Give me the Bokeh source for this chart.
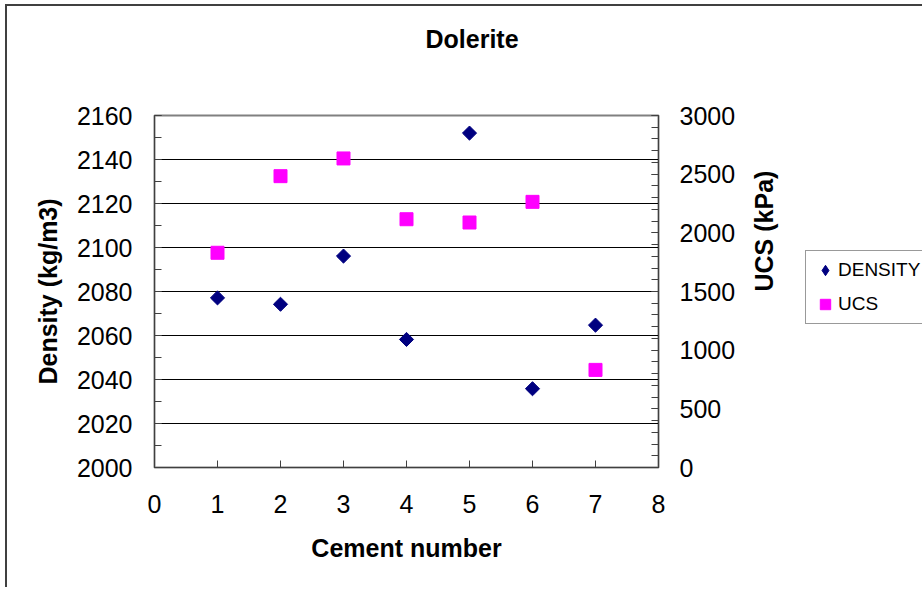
import math
from bokeh.plotting import figure
from bokeh.layouts import row
from bokeh.models import Range1d, LinearAxis, FixedTicker, Legend, LegendItem
from bokeh.embed import file_html
from bokeh.resources import INLINE

# ---- data ----
cement = [1, 2, 3, 4, 5, 6, 7]
density = [2077.1, 2074.2, 2096.1, 2058.2, 2152.0, 2035.8, 2064.7]
ucs = [1830, 2483, 2634, 2116, 2088, 2264, 832]
x_ticks = [0, 1, 2, 3, 4, 5, 6, 7, 8]
density_ticks = [2000, 2020, 2040, 2060, 2080, 2100, 2120, 2140, 2160]
density_minor = list(range(2000, 2161, 10))
ucs_ticks = [0, 500, 1000, 1500, 2000, 2500, 3000]
ucs_minor = list(range(0, 3001, 100))

FONT = "Liberation Sans"
AX = "#404040"
NAVY = "#000080"
MAGENTA = "#FF00FF"

p = figure(width=793, height=583, output_backend="svg", toolbar_location=None,
           x_range=Range1d(0, 8), y_range=Range1d(2000, 2160),
           min_border_left=147, min_border_top=109, min_border_right=142,
           min_border_bottom=122)
p.styles = {"margin-left": "5px", "margin-top": "4px",
            "border-left": "2px solid #404040", "border-top": "2px solid #404040"}
p.outline_line_color = "#808080"
p.outline_line_width = 2
p.background_fill_color = "white"
p.border_fill_color = "white"

p.title.text = "Dolerite"
p.title.text_font = FONT
p.title.text_font_size = "25px"
p.title.text_font_style = "bold"
p.title.text_color = "black"
p.title.align = "left"
p.title.vertical_align = "bottom"
p.title.offset = 271
p.title.standoff = 0

p.xgrid.visible = False
p.ygrid.grid_line_color = "black"
p.ygrid.grid_line_width = 1

def style_axis(ax):
    ax.axis_line_color = AX
    ax.major_tick_line_color = AX
    ax.minor_tick_line_color = AX
    ax.major_tick_in = 7
    ax.major_tick_out = 0
    ax.minor_tick_in = 7
    ax.minor_tick_out = 0
    ax.major_label_text_font = FONT
    ax.major_label_text_font_size = "25px"
    ax.major_label_text_color = "black"
    ax.axis_label_text_font = FONT
    ax.axis_label_text_font_size = "25px"
    ax.axis_label_text_font_style = "bold"
    ax.axis_label_text_color = "black"

xa = p.below[0]
xa.ticker = FixedTicker(ticks=x_ticks, minor_ticks=[])
xa.axis_label = "Cement number"
style_axis(xa)
xa.major_label_standoff = 27
xa.axis_label_standoff = 18

ya = p.left[0]
ya.ticker = FixedTicker(ticks=density_ticks, minor_ticks=density_minor)
ya.axis_label = "Density (kg/m3)"
style_axis(ya)
ya.major_label_standoff = 22
ya.axis_label_standoff = 12

p.extra_y_ranges = {"ucs": Range1d(0, 3000)}
ra = LinearAxis(y_range_name="ucs",
                ticker=FixedTicker(ticks=ucs_ticks, minor_ticks=ucs_minor),
                axis_label="UCS (kPa)")
style_axis(ra)
ra.major_label_standoff = 21
ra.axis_label_standoff = 26
ra.axis_label_orientation = math.pi / 2
p.add_layout(ra, "right")

# invisible spacer between title and plot area (one hidden tick, empty label)
spacer = LinearAxis(ticker=FixedTicker(ticks=[4], minor_ticks=[]), axis_label=None,
                    major_tick_out=63, major_tick_in=0, minor_tick_out=0,
                    minor_tick_in=0, major_label_standoff=0,
                    major_label_overrides={4: ""},
                    major_label_text_font_size="1px",
                    major_label_text_alpha=0,
                    axis_line_alpha=0, major_tick_line_alpha=0,
                    minor_tick_line_alpha=0)
p.add_layout(spacer, "above")

p.scatter(cement, ucs, y_range_name="ucs", marker="square", size=13,
          fill_color=MAGENTA, line_color=MAGENTA)
p.scatter(cement, density, marker="square", angle=math.pi / 4, size=10,
          fill_color=NAVY, line_color=NAVY)

# ---- legend panel (same series, drawn outside its visible range) ----
lg = figure(width=124, height=583, output_backend="svg", toolbar_location=None,
            x_range=Range1d(100, 101), y_range=Range1d(100, 101),
            x_axis_type=None, y_axis_type=None, min_border=0)
lg.styles = {"margin-top": "4px", "border-top": "2px solid #404040"}
lg.outline_line_color = None
lg.xgrid.visible = False
lg.ygrid.visible = False
lg.background_fill_color = "white"
lg.border_fill_color = "white"
k_den = lg.scatter(cement, density, marker="diamond", size=10,
                   fill_color=NAVY, line_color=NAVY)
k_ucs = lg.scatter(cement, ucs, marker="square", size=13,
                   fill_color=MAGENTA, line_color=MAGENTA)

legend = Legend(items=[LegendItem(label="DENSITY", renderers=[k_den]),
                       LegendItem(label="UCS", renderers=[k_ucs])],
                location=(7, 143), orientation="vertical", margin=0,
                glyph_width=26, glyph_height=26, spacing=8, padding=6,
                label_standoff=0, label_height=26,
                label_text_font=FONT, label_text_font_size="19px",
                label_text_color="black",
                border_line_color="#333333", border_line_width=1,
                background_fill_color="white", background_fill_alpha=1)
lg.add_layout(legend)

layout = row(p, lg)
open("out.html", "w").write(file_html(layout, INLINE))
